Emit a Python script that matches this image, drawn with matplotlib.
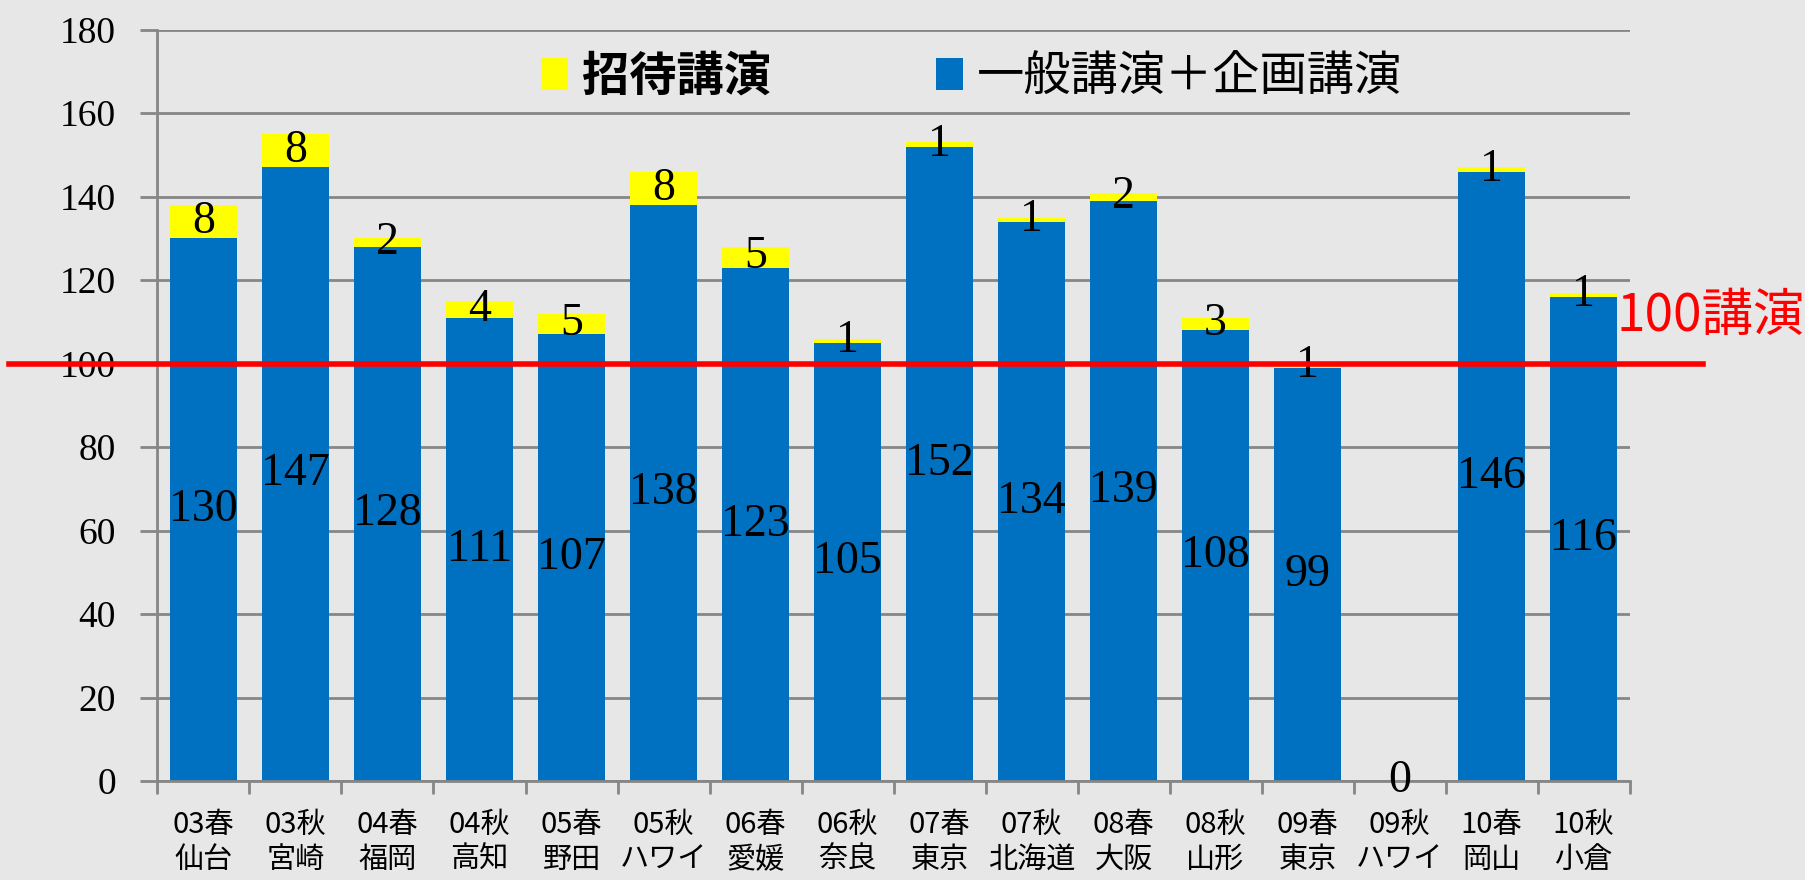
import numpy as np
import matplotlib
matplotlib.use('Agg')
import matplotlib.pyplot as plt
import matplotlib.transforms as mtransforms

# data
seasons = ['03春', '03秋', '04春', '04秋', '05春', '05秋', '06春', '06秋',
           '07春', '07秋', '08春', '08秋', '09春', '09秋', '10春', '10秋']
places = ['仙台', '宮崎', '福岡', '高知', '野田', 'ハワイ', '愛媛', '奈良',
          '東京', '北海道', '大阪', '山形', '東京', 'ハワイ', '岡山', '小倉']
general = [130, 147, 128, 111, 107, 138, 123, 105, 152, 134, 139, 108, 99, 0, 146, 116]
invited = [8, 8, 2, 4, 5, 8, 5, 1, 1, 1, 2, 3, 1, 0, 1, 1]
threshold = 100
yticks = list(range(0, 181, 20))

serif = ['Liberation Serif', 'DejaVu Serif']
cjk = ['Noto Sans CJK JP', 'DejaVu Sans']
bg = '#e7e7e7'
grid_c = '#868686'

plt.rcParams['font.family'] = cjk

fig = plt.figure(figsize=(18.06, 8.8), dpi=100, facecolor=bg)
ax = fig.add_axes([0.0872, 0.1125, 0.9023 - 0.0872, 0.9662 - 0.1125])
ax.set_facecolor(bg)

x = np.arange(len(seasons))
b1 = ax.bar(x, general, width=0.73, color='#0070C0', label='一般講演＋企画講演', zorder=3)
b2 = ax.bar(x, invited, width=0.73, bottom=general, color='#FFFF00', label='招待講演', zorder=3)

ax.bar_label(b1, labels=[str(v) if v else '' for v in general], label_type='center',
             fontsize=33, family=serif, color='black', zorder=5)
ax.bar_label(b2, labels=[str(v) for v in invited], label_type='center',
             fontsize=33, family=serif, color='black', zorder=5)

ax.set_xlim(-0.5, len(seasons) - 0.5)
ax.set_ylim(0, 180)
ax.set_yticks(yticks)
ax.set_yticklabels([str(t) for t in yticks], family=serif, fontsize=27)
ax.set_xticks(np.arange(-0.5, len(seasons), 1.0), minor=False)
ax.set_xticklabels([])
ax.set_xticks(x, minor=True)
ax.set_xticklabels([f'{s}\n{p}' for s, p in zip(seasons, places)], minor=True,
                   fontsize=21, linespacing=1.2)
ax.tick_params(axis='x', which='major', length=9, width=2, color=grid_c, direction='out')
ax.tick_params(axis='x', which='minor', length=0, pad=21)
ax.tick_params(axis='y', length=12, width=2, color=grid_c, pad=18)

ax.grid(axis='y', color=grid_c, linewidth=2, zorder=0)
for s in ['top', 'right']:
    ax.spines[s].set_visible(False)
for s in ['left', 'bottom']:
    ax.spines[s].set_color(grid_c)
    ax.spines[s].set_linewidth(2)
    ax.spines[s].set_zorder(4)

# 100-talk line, extending beyond axes
trans = mtransforms.blended_transform_factory(ax.transAxes, ax.transData)
ax.plot([-0.101, 1.05], [threshold, threshold], color='red', linewidth=4,
        transform=trans, clip_on=False, zorder=6)
fig.text(0.895, 0.641, f'{threshold}講演', color='red', fontsize=37,
         ha='left', va='center', family=cjk)

leg = ax.legend(handles=[b2, b1], loc='center', bbox_to_anchor=(0.538, 0.9125),
                bbox_transform=fig.transFigure, ncol=2, frameon=False,
                fontsize=34, handlelength=0.56, handleheight=0.65,
                handletextpad=0.3, columnspacing=3.5)
leg.get_texts()[0].set_fontweight('bold')

fig.savefig('out.png', dpi=100, facecolor=bg)
